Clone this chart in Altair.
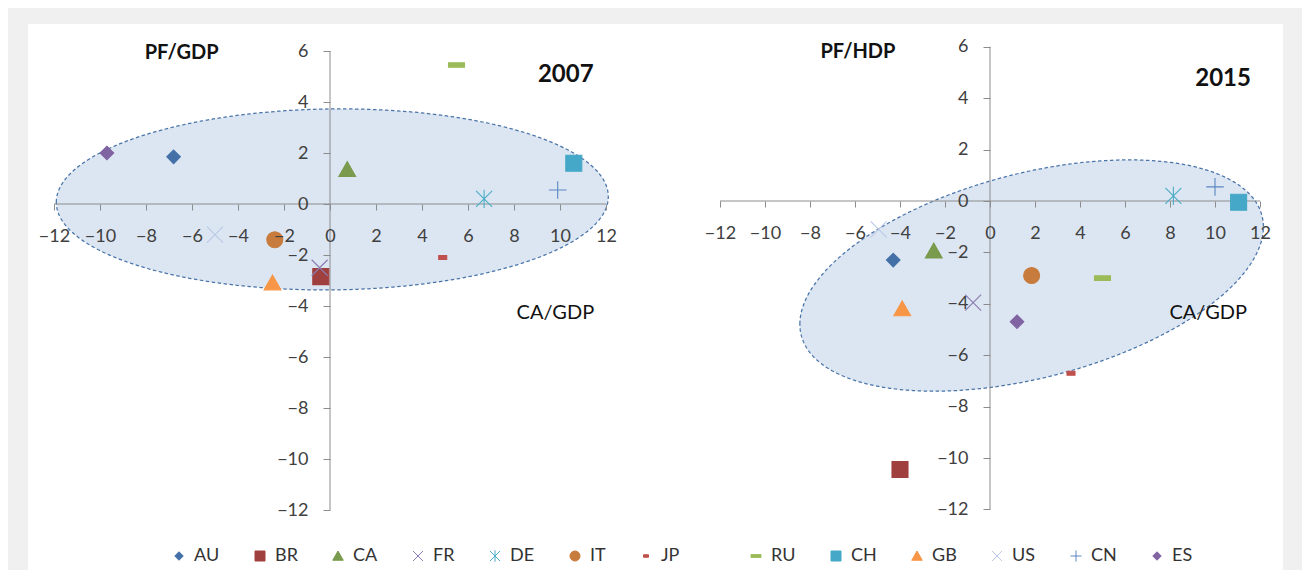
import altair as alt
import pandas as pd
import numpy as np

# ---------------- data ----------------
countries = ["AU", "BR", "CA", "FR", "DE", "IT", "JP", "RU", "CH", "GB", "US", "CN", "ES"]
x2007 = [-6.8, -0.4, 0.75, -0.45, 6.7, -2.4, 4.9, 5.5, 10.6, -2.5, -5.0, 9.9, -9.7]
y2007 = [1.85, -2.85, 1.35, -2.5, 0.2, -1.4, -2.1, 5.45, 1.6, -3.1, -1.2, 0.55, 2.0]
x2015 = [-4.3, -4.0, -2.5, -0.75, 8.15, 1.85, 3.6, 5.0, 11.05, -3.9, -4.95, 10.0, 1.2]
y2015 = [-2.3, -10.45, -1.95, -3.95, 0.2, -2.9, -6.7, -3.0, -0.05, -4.2, -1.1, 0.55, -4.7]

colors = ["#4470A8", "#A0403E", "#7A9A4E", "#8B7AAE", "#4BACC6", "#C77B3C", "#C0504D",
          "#9BBB59", "#45A8C8", "#F79646", "#B9C9E6", "#5A86C2", "#8064A2"]
shapes = [
    "M0,-0.85L0.85,0L0,0.85L-0.85,0Z",              # AU diamond
    "square",                                        # BR
    "M0,-1L1.05,0.85L-1.05,0.85Z",                   # CA triangle
    "M-1,-1L1,1M-1,1L1,-1",                          # FR x
    "M-1,-1L1,1M-1,1L1,-1M0,-1.15L0,1.15",           # DE asterisk
    "circle",                                        # IT
    "M-0.5,-0.25L0.5,-0.25L0.5,0.25L-0.5,0.25Z",     # JP short dash
    "M-1,-0.28L1,-0.28L1,0.28L-1,0.28Z",             # RU long dash
    "square",                                        # CH
    "M0,-1L1.05,0.85L-1.05,0.85Z",                   # GB triangle
    "M-1,-1L1,1M-1,1L1,-1",                          # US x
    "M-1.1,0L1.1,0M0,-1.1L0,1.1",                    # CN plus
    "M0,-0.85L0.85,0L0,0.85L-0.85,0Z",              # ES diamond
]

x_ticks = list(range(-12, 13, 2))
y_ticks = list(range(-12, 7, 2))

# annotation texts
texts_2007 = ["PF/GDP", "2007", "CA/GDP"]
tx_2007 = [-6.45, 10.25, 9.8]
ty_2007 = [5.94, 5.04, -4.27]
texts_2015 = ["PF/HDP", "2015", "CA/GDP"]
tx_2015 = [-5.87, 10.36, 9.7]
ty_2015 = [5.78, 4.75, -4.34]
text_weight = ["bold", "bold", "normal"]
text_size = [20, 24, 20]

# ellipse parameters: centre x, centre y, x radius, y radius, phase
ell_2007 = [0.1, 0.18, 12.0, 3.55, 1.54]
ell_2015 = [1.85, -2.9, 10.3, 4.5, 1.137]

FONT = "Lato"
TXT = "#404040"
AXC = "#8C8C8C"
JP_GAP = "\u00a0" * 8 + "\u200b"   # extra room after the JP legend entry

# ---------------- layout ----------------
H = 546
W1, W2 = 632, 623
# left panel: 23 px/unit x, 25.5 px/unit y ; origin at (302, 180) in view
dom_x1 = [-302 / 23, (W1 - 302) / 23]
dom_y1 = [-(H - 180) / 25.5, 180 / 25.5]
# right panel: 22.5 px/unit x, 25.7 px/unit y ; origin at (330, 177)
dom_x2 = [-330 / 22.5, (W2 - 330) / 22.5]
dom_y2 = [-(H - 177) / 25.7, 177 / 25.7]

legend = alt.Legend(
    orient="none", legendX=142, legendY=523, direction="horizontal", title=None,
    labelFont=FONT, labelFontSize=18, labelColor="#333333", symbolSize=100,
    symbolStrokeWidth=1, columnPadding=31, labelOffset=6, padding=0,
    labelExpr="datum.label == 'JP' ? 'JP" + JP_GAP + "' : datum.label",
)

shape_scale = alt.Scale(domain=countries, range=shapes)
color_scale = alt.Scale(domain=countries, range=colors)


def ellipse_df(p):
    cx, cy, rx, ry, ph = p
    s = np.linspace(0, np.pi, 241)
    return pd.DataFrame({
        "x": cx + rx * np.cos(s),
        "y": cy + ry * np.cos(s - ph),
        "y2": cy + ry * np.cos(s + ph),
    })


def panel(xs, ys, dx, dy, W, texts, tx, ty, ell):
    xoff = -(0 - dx[0]) / (dx[1] - dx[0]) * W
    yoff = -(H - (dy[1] - 0) / (dy[1] - dy[0]) * H)
    xsc = alt.Scale(domain=dx, nice=False, zero=False)
    ysc = alt.Scale(domain=dy, nice=False, zero=False)
    xax = alt.Axis(values=x_ticks, domain=False, grid=False, tickSize=6, tickColor=AXC,
                   labelFont=FONT, labelFontSize=18, labelColor=TXT, labelPadding=17,
                   offset=yoff, title=None, zindex=1, labelOverlap=False, labelFlush=False)
    yax = alt.Axis(values=y_ticks, domain=False, grid=False, tickSize=7, tickColor=AXC,
                   labelFont=FONT, labelFontSize=18, labelColor=TXT, labelPadding=15,
                   offset=xoff, title=None, zindex=1, labelOverlap=False, labelFlush=False)

    e = alt.Chart(ellipse_df(ell)).mark_area(
        fill="#DCE6F2", stroke="#4A74A8", strokeWidth=1.25, strokeDash=[3.5, 2.5], opacity=1
    ).encode(
        x=alt.X("x:Q", scale=xsc, axis=xax),
        y=alt.Y("y:Q", scale=ysc, axis=yax),
        y2="y2:Q",
    )

    axes_df = pd.DataFrame({"x": [x_ticks[0], 0], "x2": [x_ticks[-1], 0],
                            "y": [0, y_ticks[0]], "y2": [0, y_ticks[-1]]})
    rules = alt.Chart(axes_df).mark_rule(color=AXC, strokeWidth=1).encode(
        x="x:Q", x2="x2:Q", y="y:Q", y2="y2:Q")

    df = pd.DataFrame({"country": countries, "x": xs, "y": ys})
    pts = alt.Chart(df).mark_point(opacity=1, strokeWidth=1.1, size=256).encode(
        x="x:Q", y="y:Q",
        shape=alt.Shape("country:N", scale=shape_scale, legend=legend, sort=countries),
        fill=alt.Fill("country:N", scale=color_scale, legend=legend, sort=countries),
        stroke=alt.Stroke("country:N", scale=color_scale, legend=legend, sort=countries),
    )

    layers = [e, rules, pts]
    for t, x, y, w, s in zip(texts, tx, ty, text_weight, text_size):
        tdf = pd.DataFrame({"label": [t], "x": [x], "y": [y]})
        layers.append(
            alt.Chart(tdf).mark_text(font=FONT, fontSize=s, fontWeight=w, color="#111111",
                                     align="center", baseline="middle").encode(
                x="x:Q", y="y:Q", text="label:N")
        )
    return alt.layer(*layers).properties(width=W, height=H)


left = panel(x2007, y2007, dom_x1, dom_y1, W1, texts_2007, tx_2007, ty_2007, ell_2007)
right = panel(x2015, y2015, dom_x2, dom_y2, W2, texts_2015, tx_2015, ty_2015, ell_2015)

chart = alt.hconcat(left, right, spacing=0, bounds="flush").resolve_scale(
    shape="shared", fill="shared", stroke="shared"
).properties(
    padding={"left": 20, "top": 16, "right": 19, "bottom": 0},
    background="#F0F0F0",
).configure_view(fill="white", strokeWidth=0)

chart.save("out.html", embed_options={"renderer": "svg", "actions": False})
